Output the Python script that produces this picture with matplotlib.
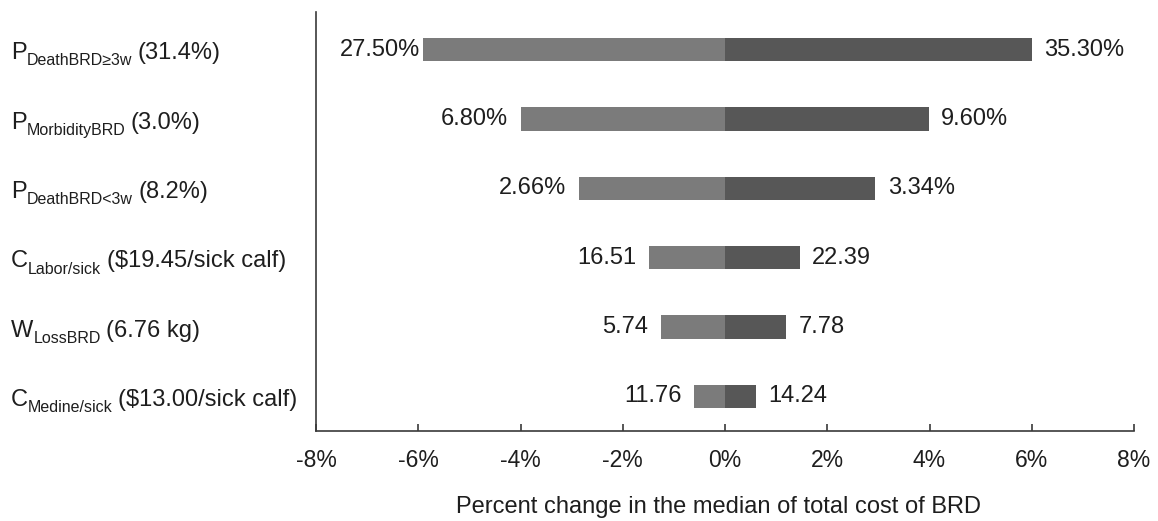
import matplotlib
matplotlib.use("Agg")
import matplotlib.pyplot as plt
import matplotlib.transforms as mtransforms
from matplotlib.ticker import FuncFormatter

plt.rcParams["font.family"] = ["Liberation Sans", "DejaVu Sans"]
plt.rcParams["axes.unicode_minus"] = False

# Tornado chart: parameter, its subscript, and the base value shown in parentheses
param_symbols = ["P", "P", "P", "C", "W", "C"]
param_subscripts = ["DeathBRD≥3w", "MorbidityBRD", "DeathBRD<3w",
                    "Labor/sick", "LossBRD", "Medine/sick"]
param_base = ["(31.4%)", "(3.0%)", "(8.2%)", "($19.45/sick calf)",
              "(6.76 kg)", "($13.00/sick calf)"]

# Percent change in the median total cost of BRD at the low / high input value
change_low = [-5.90, -4.00, -2.86, -1.48, -1.26, -0.61]
change_high = [6.00, 3.98, 2.94, 1.46, 1.20, 0.60]

# Low / high input values printed beside each bar
input_low = ["27.50%", "6.80%", "2.66%", "16.51", "5.74", "11.76"]
input_high = ["35.30%", "9.60%", "3.34%", "22.39", "7.78", "14.24"]

xticks = [-8, -6, -4, -2, 0, 2, 4, 6, 8]

LOW_COLOR = "#7b7b7b"
HIGH_COLOR = "#575757"
TEXT_COLOR = "#1e1e1e"
AXIS_COLOR = "#3a3a3a"

FS_MAIN = 17
FS_SUB = 11.5
FS_TICK = 16.5

fig = plt.figure(figsize=(11.58, 5.21), dpi=100)
ax = fig.add_axes([0.2729, 0.1727, 0.7064, 0.804])

rows = list(range(len(param_symbols)))
bar_h = 0.34
ax.barh(rows, change_low, height=bar_h, color=LOW_COLOR, edgecolor="none")
ax.barh(rows, change_high, height=bar_h, color=HIGH_COLOR, edgecolor="none")

# the widest left label sits closer to its bar so it clears the axis line
left_gap = [-2.5, -9, -9, -9, -9, -9]
for y, lo, hi, tl, th, gap in zip(rows, change_low, change_high,
                                  input_low, input_high, left_gap):
    ax.annotate(tl, xy=(lo, y), xytext=(gap, 0), textcoords="offset points",
                ha="right", va="center", fontsize=FS_MAIN, color=TEXT_COLOR)
    ax.annotate(th, xy=(hi, y), xytext=(9, 0), textcoords="offset points",
                ha="left", va="center", fontsize=FS_MAIN, color=TEXT_COLOR)

ax.set_xlim(-8, 8)
ax.set_ylim(5.5, -0.54)
ax.set_xticks(xticks)
ax.xaxis.set_major_formatter(FuncFormatter(lambda v, p: f"{v:.0f}%"))
ax.set_yticks([])

for side in ("top", "right"):
    ax.spines[side].set_visible(False)
for side in ("left", "bottom"):
    ax.spines[side].set_color(AXIS_COLOR)
    ax.spines[side].set_linewidth(1.2)

ax.tick_params(axis="x", direction="in", length=5, width=1.2, color=AXIS_COLOR,
               pad=13, labelsize=FS_TICK, labelcolor=TEXT_COLOR)
ax.set_xlabel("Percent change in the median of total cost of BRD",
              fontsize=FS_MAIN, color=TEXT_COLOR, labelpad=16)
ax.xaxis.set_label_coords(0.4915, -0.155)

# Row labels: symbol, lowered small subscript, then the base value
label_tf = mtransforms.offset_copy(
    mtransforms.blended_transform_factory(fig.transFigure, ax.transData),
    fig=fig, x=0, y=-7, units="points")
for y, sym, sub, base in zip(rows, param_symbols, param_subscripts, param_base):
    main = fig.text(0.0095, y, sym, transform=label_tf, fontsize=FS_MAIN,
                    va="baseline", ha="left", color=TEXT_COLOR)
    sub_t = ax.annotate(sub, xy=(1, 0), xycoords=main, xytext=(0, -3),
                        textcoords="offset points", fontsize=FS_SUB,
                        ha="left", va="bottom", color=TEXT_COLOR,
                        annotation_clip=False)
    ax.annotate(base, xy=(1, 0), xycoords=(sub_t, main), xytext=(4, 0),
                textcoords="offset points", fontsize=FS_MAIN,
                ha="left", va="bottom", color=TEXT_COLOR,
                annotation_clip=False)

fig.savefig("out.png", dpi=100, facecolor="white")
